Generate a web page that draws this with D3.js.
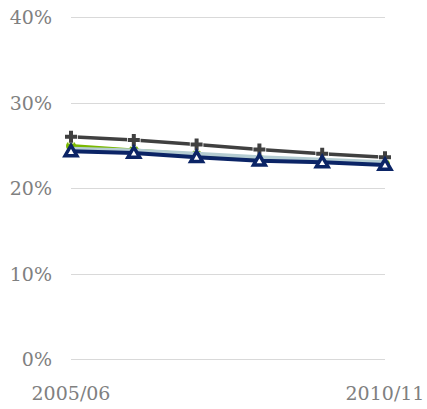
<!DOCTYPE html>
<html>
<head>
<meta charset="utf-8">
<style>
  body { margin: 0; background: #fff; }
  .grid line { stroke: #d9d9d9; stroke-width: 1; }
  .lbl { font-family: "DejaVu Serif", serif; font-size: 19px; fill: #808080; }
</style>
<script src="https://cdn.jsdelivr.net/npm/d3@7"></script>
</head>
<body>
<svg id="chart" width="427" height="409"></svg>
<script>
var years = ["2005/06", "2006/07", "2007/08", "2008/09", "2009/10", "2010/11"];
var yTicks = [0, 0.1, 0.2, 0.3, 0.4];

var greyVals  = [0.260, 0.256, 0.251, 0.245, 0.240, 0.236];
var greenVals = [0.249, 0.244, 0.239, 0.234, 0.231, 0.228];
var paleVals  = [0.246, 0.244, 0.240, 0.236, 0.233, 0.230];
var navyVals  = [0.243, 0.241, 0.236, 0.232, 0.230, 0.227];

var svg = d3.select("#chart");

var x = d3.scalePoint().domain(years).range([71, 385]);
var y = d3.scaleLinear().domain([0, 0.4]).range([359, 17]);

// gridlines
svg.append("g").attr("class", "grid")
  .selectAll("line").data(yTicks).enter().append("line")
    .attr("x1", 71).attr("x2", 385)
    .attr("y1", function(d) { return Math.round(y(d)) + 0.5; })
    .attr("y2", function(d) { return Math.round(y(d)) + 0.5; });

svg.selectAll("text.ytick").data(yTicks).enter().append("text")
  .attr("class", "lbl ytick")
  .attr("x", 52).attr("y", function(d) { return y(d) + 7; })
  .attr("text-anchor", "end")
  .text(d3.format(".0%"));

// only first and last category labels
[years[0], years[years.length - 1]].forEach(function(t) {
  svg.append("text").attr("class", "lbl")
    .attr("x", x(t)).attr("y", 400)
    .attr("text-anchor", "middle").text(t);
});

var line = d3.line()
  .x(function(d, i) { return x(years[i]); })
  .y(function(d) { return y(d); });

function drawSeries(vals, color, width) {
  svg.append("path").datum(vals)
    .attr("fill", "none").attr("stroke", color)
    .attr("stroke-width", width)
    .attr("d", line);
}

// green series with round markers
drawSeries(greenVals, "#7ab800", 4);
svg.selectAll("circle.g").data(greenVals).enter().append("circle")
  .attr("cx", function(d, i) { return x(years[i]); })
  .attr("cy", function(d) { return y(d); })
  .attr("r", 5).attr("fill", "#7ab800");

// pale series
drawSeries(paleVals, "#b4ccd2", 4);

// grey series with plus markers
drawSeries(greyVals, "#404040", 3.5);
svg.selectAll("path.plus").data(greyVals).enter().append("path")
  .attr("transform", function(d, i) { return "translate(" + x(years[i]) + "," + y(d) + ")"; })
  .attr("d", d3.symbol().type(d3.symbolCross).size(80))
  .attr("fill", "#404040").attr("stroke", "#fff").attr("stroke-width", 1.5)
  .attr("paint-order", "stroke");

// navy series with triangle markers
drawSeries(navyVals, "#0b2466", 4);
svg.selectAll("path.tri").data(navyVals).enter().append("path")
  .attr("transform", function(d, i) { return "translate(" + x(years[i]) + "," + (y(d) + 1) + ")"; })
  .attr("d", d3.symbol().type(d3.symbolTriangle).size(60))
  .attr("fill", "#fff").attr("stroke", "#0b2466").attr("stroke-width", 3.5);
</script>
</body>
</html>
